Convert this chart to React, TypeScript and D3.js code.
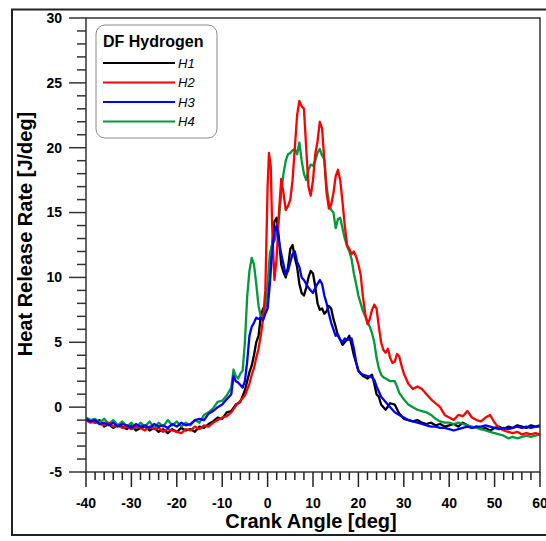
import React from "react";
import * as d3 from "d3";

const seriesNames = ["H1", "H2", "H3", "H4"];
const seriesColors = ["#000000", "#ff0000", "#0000ff", "#009a3a"];
const xTicks = [-40, -30, -20, -10, 0, 10, 20, 30, 40, 50, 60];
const yTicks = [-5, 0, 5, 10, 15, 20, 25, 30];

const H1: [number, number][] = [
  [-40,-1.0],[-39,-1.1],[-38,-1.2],[-37,-1.0],[-36,-1.5],[-35,-1.3],[-34,-1.6],[-33,-1.4],[-32,-1.5],[-31,-1.7],
  [-30,-1.4],[-29,-1.8],[-28,-1.6],[-27,-1.5],[-26,-1.8],[-25,-1.6],[-24,-1.9],[-23,-1.7],[-22,-2.0],[-21,-1.7],
  [-20,-1.9],[-19,-1.6],[-18,-1.8],[-17,-1.7],[-16,-1.9],[-15,-1.5],[-14,-1.6],[-13,-1.3],[-12,-1.1],[-11,-0.8],
  [-10,-0.9],[-9,-0.4],[-8,-0.3],[-7,0.2],[-6,0.4],[-5,1.3],[-4,2.7],[-3.5,3.2],[-3,4.0],[-2.5,5.0],[-2,5.5],
  [-1.5,7.0],[-1,7.6],[-0.5,7.8],[0,8.8],[0.5,10.5],[1,12.5],[1.5,14.3],[2,14.6],[2.5,13.0],[3,11.0],[3.5,10.4],
  [4,10.0],[4.5,10.8],[5,12.2],[5.5,12.5],[6,11.5],[6.5,10.8],[7,9.5],[7.5,8.8],[8,8.6],[8.5,9.2],[9,10.0],
  [9.5,10.5],[10,10.3],[10.5,9.3],[11,8.0],[11.5,7.5],[12,7.6],[12.5,7.2],[13,7.4],[13.5,7.8],[14,7.6],[14.5,6.8],
  [15,6.2],[15.5,5.5],[16,5.2],[16.5,4.8],[17,5.0],[17.5,5.2],[18,5.5],[18.5,4.8],[19,4.0],[19.5,3.4],[20,2.8],
  [20.5,2.6],[21,2.4],[22,2.2],[23,2.5],[23.5,1.8],[24,1.0],[24.5,0.8],[25,0.2],[26,-0.2],[27,0.3],[28,0.2],
  [29,-0.5],[30,-0.9],[31,-1.0],[32,-1.1],[33,-1.0],[34,-1.2],[35,-1.3],[36,-1.2],[37,-1.4],[38,-1.3],[39,-1.5],
  [40,-1.4],[41,-1.3],[42,-1.5],[43,-1.2],[44,-1.4],[45,-1.6],[46,-1.5],[47,-1.7],[48,-1.6],[49,-1.8],[50,-1.6],
  [51,-1.5],[52,-1.7],[53,-1.5],[54,-1.6],[55,-1.4],[56,-1.5],[57,-1.6],[58,-1.4],[59,-1.5],[60,-1.4],
];

const H2: [number, number][] = [
  [-40,-1.0],[-39,-1.2],[-38,-1.1],[-37,-1.3],[-36,-1.4],[-35,-1.2],[-34,-1.5],[-33,-1.4],[-32,-1.6],[-31,-1.5],
  [-30,-1.7],[-29,-1.5],[-28,-1.6],[-27,-1.8],[-26,-1.5],[-25,-1.7],[-24,-1.6],[-23,-1.9],[-22,-1.7],[-21,-1.8],
  [-20,-1.9],[-19,-2.0],[-18,-1.7],[-17,-1.8],[-16,-1.5],[-15,-1.7],[-14,-1.4],[-13,-1.5],[-12,-1.2],[-11,-1.0],
  [-10,-0.8],[-9,-0.7],[-8,-0.4],[-7,0.1],[-6,0.5],[-5,0.9],[-4,1.8],[-3.5,2.5],[-3,3.0],[-2.5,3.8],[-2,4.5],
  [-1.5,5.5],[-1,6.8],[-0.5,9.0],[0,17.0],[0.3,19.6],[0.7,18.5],[1,14.0],[1.5,9.8],[2,11.5],[2.5,15.0],[3,17.6],
  [3.5,16.5],[4,15.2],[4.5,15.5],[5,16.0],[5.5,17.5],[6,20.0],[6.5,22.5],[7,23.6],[7.5,23.2],[8,23.0],[8.5,20.0],
  [9,17.0],[9.5,16.3],[10,17.5],[10.5,19.5],[11,20.5],[11.5,22.0],[12,21.5],[12.5,19.0],[13,16.5],[13.5,15.3],
  [14,15.6],[14.5,16.5],[15,17.8],[15.5,18.3],[16,17.5],[16.5,15.8],[17,14.0],[17.5,12.5],[18,12.2],[18.5,11.8],
  [19,12.0],[19.5,11.6],[20,11.0],[20.5,10.2],[21,8.5],[21.5,7.2],[22,6.4],[22.5,6.8],[23,7.5],[23.5,7.9],
  [24,7.6],[24.5,6.2],[25,5.0],[25.5,4.4],[26,4.2],[26.5,4.5],[27,3.8],[27.5,3.4],[28,3.5],[28.5,4.1],[29,3.9],
  [29.5,3.2],[30,2.6],[31,1.8],[32,1.4],[33,1.6],[34,1.4],[35,1.0],[36,0.6],[37,0.3],[38,0.0],[39,-0.6],
  [40,-0.8],[41,-1.0],[42,-0.6],[43,-0.7],[44,-0.3],[45,-0.8],[46,-1.0],[47,-1.1],[48,-0.8],[49,-0.6],[50,-1.2],
  [51,-1.6],[52,-1.8],[53,-1.9],[54,-2.0],[55,-1.9],[56,-2.1],[57,-2.0],[58,-2.1],[59,-2.0],[60,-2.1],
];

const H3: [number, number][] = [
  [-40,-0.9],[-39,-1.1],[-38,-1.0],[-37,-1.3],[-36,-1.2],[-35,-1.4],[-34,-1.2],[-33,-1.5],[-32,-1.3],[-31,-1.4],
  [-30,-1.6],[-29,-1.3],[-28,-1.5],[-27,-1.4],[-26,-1.6],[-25,-1.3],[-24,-1.5],[-23,-1.4],[-22,-1.6],[-21,-1.3],
  [-20,-1.5],[-19,-1.2],[-18,-1.4],[-17,-1.3],[-16,-1.0],[-15,-0.9],[-14,-1.0],[-13,-0.5],[-12,-0.3],[-11,0.0],
  [-10,0.2],[-9,0.6],[-8,1.0],[-7.5,2.4],[-7,2.0],[-6.5,1.9],[-6,1.7],[-5.5,1.5],[-5,2.0],[-4.5,3.5],[-4,5.5],
  [-3.5,6.2],[-3,6.5],[-2.5,6.9],[-2,6.8],[-1.5,6.9],[-1,6.7],[-0.5,7.2],[0,7.6],[0.5,9.5],[1,12.0],[1.5,13.5],
  [2,14.0],[2.5,12.8],[3,11.8],[3.5,11.0],[4,10.2],[4.5,10.5],[5,11.2],[5.5,11.8],[6,12.0],[6.5,11.2],[7,10.8],
  [7.5,10.0],[8,9.8],[8.5,9.5],[9,9.2],[9.5,9.0],[10,8.8],[10.5,9.2],[11,9.5],[11.5,9.8],[12,9.5],[12.5,8.6],
  [13,8.0],[13.5,7.2],[14,6.5],[14.5,6.0],[15,5.5],[15.5,5.6],[16,5.2],[16.5,5.0],[17,5.3],[17.5,5.2],[18,5.2],
  [18.5,5.3],[19,4.5],[19.5,3.5],[20,2.8],[20.5,2.6],[21,2.5],[22,2.4],[23,2.3],[23.5,2.1],[24,1.6],[24.5,1.2],
  [25,0.8],[26,0.4],[27,0.0],[28,-0.4],[29,-0.6],[30,-0.8],[31,-1.0],[32,-1.1],[33,-1.2],[34,-1.3],[35,-1.4],
  [36,-1.5],[37,-1.5],[38,-1.6],[39,-1.6],[40,-1.7],[41,-1.8],[42,-1.7],[43,-1.6],[44,-1.5],[45,-1.6],[46,-1.5],
  [47,-1.5],[48,-1.4],[49,-1.5],[50,-1.6],[51,-1.7],[52,-1.6],[53,-1.7],[54,-1.6],[55,-1.5],[56,-1.6],[57,-1.5],
  [58,-1.6],[59,-1.5],[60,-1.5],
];

const H4: [number, number][] = [
  [-40,-0.8],[-39,-1.0],[-38,-0.9],[-37,-1.2],[-36,-0.9],[-35,-1.3],[-34,-1.0],[-33,-1.4],[-32,-1.1],[-31,-1.5],
  [-30,-1.2],[-29,-1.6],[-28,-1.2],[-27,-1.5],[-26,-1.1],[-25,-1.6],[-24,-1.2],[-23,-1.5],[-22,-1.0],[-21,-1.4],
  [-20,-1.1],[-19,-1.5],[-18,-1.2],[-17,-1.4],[-16,-1.0],[-15,-1.2],[-14,-0.6],[-13,-0.4],[-12,-0.1],[-11,0.4],
  [-10,0.5],[-9,0.9],[-8,1.5],[-7.5,2.9],[-7,2.4],[-6.5,2.2],[-6,2.6],[-5.5,2.8],[-5,5.0],[-4.5,8.5],[-4,10.5],
  [-3.5,11.5],[-3,11.0],[-2.5,9.5],[-2,7.8],[-1.5,7.0],[-1,6.8],[-0.5,7.5],[0,9.5],[0.5,11.8],[1,12.6],[1.5,12.8],
  [2,13.5],[2.5,14.5],[3,16.5],[3.5,18.0],[4,19.0],[4.5,19.5],[5,19.6],[5.5,19.8],[6,19.9],[6.5,19.5],[7,20.4],
  [7.5,19.0],[8,18.0],[8.5,17.5],[9,18.3],[9.5,18.7],[10,18.6],[10.5,19.0],[11,19.6],[11.5,19.9],[12,19.4],
  [12.5,19.1],[13,17.0],[13.5,15.8],[14,15.2],[14.5,15.0],[15,13.8],[15.5,14.5],[16,14.6],[16.5,13.8],[17,13.0],
  [17.5,12.4],[18,12.0],[18.5,11.4],[19,10.3],[19.5,9.5],[20,8.6],[20.5,8.0],[21,7.4],[21.5,7.0],[22,6.6],
  [22.5,6.2],[23,5.7],[23.5,5.0],[24,3.8],[24.5,3.0],[25,2.5],[25.5,2.3],[26,2.2],[27,2.0],[28,2.0],[28.5,1.6],
  [29,1.1],[30,0.6],[31,0.2],[32,0.0],[33,-0.2],[34,-0.3],[35,-0.4],[36,-0.6],[37,-0.9],[38,-1.1],[39,-1.2],
  [40,-1.2],[41,-1.3],[42,-1.2],[43,-1.3],[44,-1.4],[45,-1.5],[46,-1.6],[47,-1.7],[48,-1.8],[49,-1.9],[50,-2.0],
  [51,-2.1],[52,-2.2],[53,-2.4],[54,-2.3],[55,-2.4],[56,-2.3],[57,-2.2],[58,-2.3],[59,-2.2],[60,-2.1],
];

const seriesData = [H1, H2, H3, H4];
const drawOrder = [0, 3, 1, 2];

const FONT = "'Liberation Sans', Arial, Helvetica, sans-serif";

export default function App() {
  const left = 86, right = 540, top = 18, bottom = 472;
  const x = d3.scaleLinear().domain([-40, 60]).range([left, right]);
  const y = d3.scaleLinear().domain([-5, 30]).range([bottom, top]);
  const line = d3
    .line<[number, number]>()
    .x((d) => x(d[0]))
    .y((d) => y(d[1]));

  const xMinor = d3.range(-40, 60.001, 2).filter((v) => v % 10 !== 0);
  const yMinor = d3.range(-5, 30.001, 1).filter((v) => v % 5 !== 0);

  return (
    <svg
      width={546}
      height={541}
      style={{ position: "absolute", left: 0, top: 0, display: "block", background: "#fff" }}
      fontFamily={FONT}
    >
      <defs>
        <clipPath id="plotclip">
          <rect x={left} y={top} width={right - left} height={bottom - top} />
        </clipPath>
      </defs>
      <rect x={0} y={0} width={546} height={541} fill="#fff" />
      {/* outer frame */}
      <rect x={12} y={9.5} width={560} height={525.5} fill="none" stroke="#222" strokeWidth={2} />

      {/* data lines */}
      <g clipPath="url(#plotclip)">
        {drawOrder.map((i) => (
          <path
            key={seriesNames[i]}
            d={line(seriesData[i]) || ""}
            fill="none"
            stroke={seriesColors[i]}
            strokeWidth={2.3}
            strokeLinejoin="round"
          />
        ))}
      </g>

      {/* plot box */}
      <rect x={left} y={top} width={right - left} height={bottom - top} fill="none" stroke="#333" strokeWidth={1.5} />

      {/* y ticks */}
      {yTicks.map((v) => (
        <g key={"yt" + v}>
          <line x1={left - 17} x2={left} y1={y(v)} y2={y(v)} stroke="#333" strokeWidth={1.5} />
          <text x={62} y={y(v)} dy="0.35em" textAnchor="end" fontSize={14} fontWeight="bold" fill="#000">
            {v}
          </text>
        </g>
      ))}
      {yMinor.map((v) => (
        <line key={"ym" + v} x1={left - 9} x2={left} y1={y(v)} y2={y(v)} stroke="#333" strokeWidth={1.5} />
      ))}

      {/* x ticks */}
      {xTicks.map((v) => (
        <g key={"xt" + v}>
          <line x1={x(v)} x2={x(v)} y1={bottom} y2={bottom + 15} stroke="#222" strokeWidth={1.5} />
          <text x={x(v)} y={508} textAnchor="middle" fontSize={14} fontWeight="bold" fill="#000">
            {v}
          </text>
        </g>
      ))}
      {xMinor.map((v) => (
        <line key={"xm" + v} x1={x(v)} x2={x(v)} y1={bottom} y2={bottom + 8} stroke="#222" strokeWidth={1.5} />
      ))}

      {/* axis titles */}
      <text x={311} y={528} textAnchor="middle" fontSize={20} fontWeight="bold" fill="#000">
        Crank Angle [deg]
      </text>
      <text
        transform={`translate(32, 234) rotate(-90)`}
        textAnchor="middle"
        fontSize={20}
        fontWeight="bold"
        fill="#000"
      >
        Heat Release Rate [J/deg]
      </text>

      {/* legend */}
      <g>
        <rect x={96} y={25} width={121} height={113} rx={9} ry={9} fill="#fff" stroke="#888" strokeWidth={1} />
        <text x={103} y={47} fontSize={16} fontWeight="bold" fill="#000">
          DF Hydrogen
        </text>
        {seriesNames.map((name, i) => (
          <g key={"lg" + name}>
            <line x1={103} x2={175} y1={63 + i * 19.5} y2={63 + i * 19.5} stroke={seriesColors[i]} strokeWidth={2} />
            <text x={178} y={63 + i * 19.5} dy="0.36em" fontSize={13} fontStyle="italic" fill="#000">
              {name}
            </text>
          </g>
        ))}
      </g>
    </svg>
  );
}
